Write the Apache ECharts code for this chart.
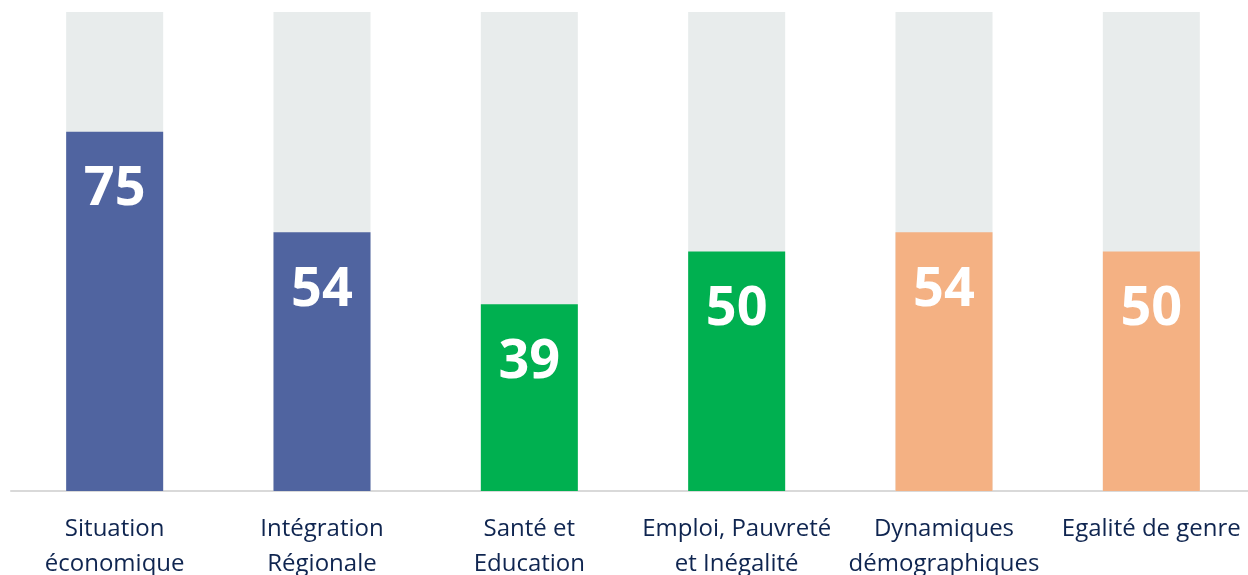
<!DOCTYPE html>
<html>
<head>
<meta charset="utf-8">
<script src="https://cdn.jsdelivr.net/npm/echarts@6/dist/echarts.min.js"></script>
<style>
html, body { margin: 0; padding: 0; background: #fff; }
#main { width: 1248px; height: 575px; }
</style>
</head>
<body>
<div id="main"></div>
<script>
var categories = ['Situation\néconomique', 'Intégration\nRégionale', 'Santé et\nEducation', 'Emploi, Pauvreté\net Inégalité', 'Dynamiques\ndémographiques', 'Egalité de genre'];
var values = [75, 54, 39, 50, 54, 50];
var colors = ['#5064a0', '#5064a0', '#00b050', '#00b050', '#f4b183', '#f4b183'];

var chart = echarts.init(document.getElementById('main'));

var data = values.map(function (v, i) {
  return { value: v, itemStyle: { color: colors[i] } };
});

chart.setOption({
  animation: false,
  grid: { left: 11, top: 12, bottom: 84, width: 1244, outerBoundsMode: 'none' },
  xAxis: {
    type: 'category',
    data: categories,
    axisTick: { show: false },
    axisLine: { lineStyle: { color: '#d9d9d9', width: 2 } },
    axisLabel: {
      color: '#0f2550',
      fontSize: 24,
      lineHeight: 35,
      margin: 21,
      interval: 0,
      fontFamily: 'Open Sans'
    }
  },
  yAxis: {
    type: 'value',
    min: 0,
    max: 100,
    show: false
  },
  series: [{
    type: 'bar',
    data: data,
    barWidth: 97,
    showBackground: true,
    backgroundStyle: { color: '#e8ecec' },
    label: {
      show: true,
      position: 'insideTop',
      distance: 31,
      color: '#fff',
      fontSize: 54,
      fontWeight: 'bold',
      fontFamily: 'Open Sans'
    }
  }]
});
</script>
</body>
</html>
